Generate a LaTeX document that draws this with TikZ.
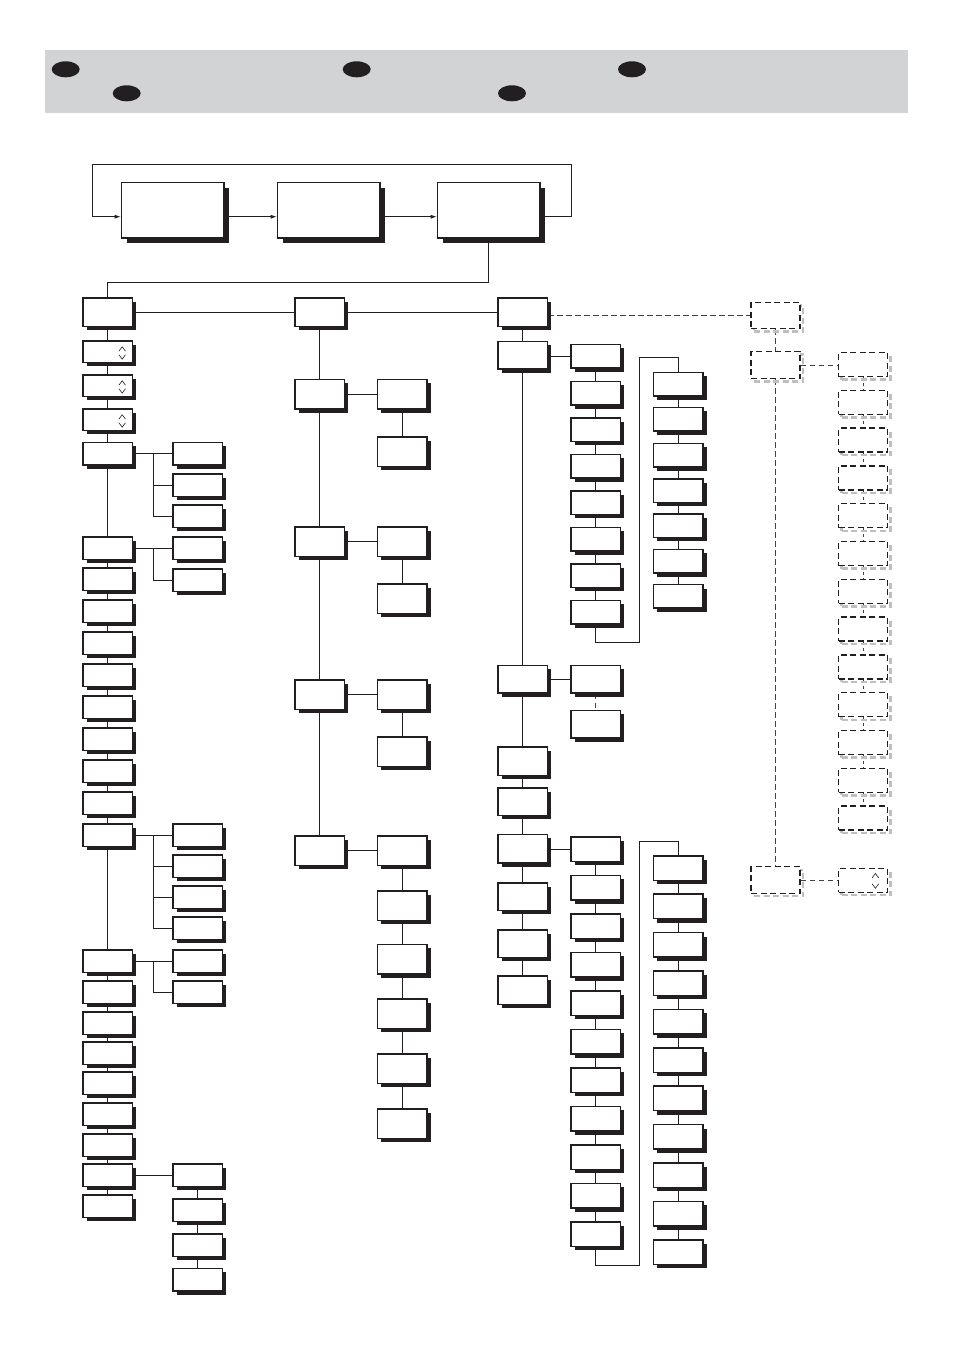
\documentclass[tikz,border=0pt]{standalone}
\usetikzlibrary{shadows,arrows.meta}
\pgfdeclarelayer{bg}
\pgfsetlayers{bg,main}
\definecolor{barg}{RGB}{209,211,212}
\definecolor{ink}{RGB}{35,31,32}
\newcommand\updown[4]{%
  \draw[chv] ([shift={(#2-3.3,#3+2.2)}]#1.center) -- ++(3.3,-4.4) -- ++(3.3,4.4);
  \draw[chv] ([shift={(#2-3.3,#4-2.2)}]#1.center) -- ++(3.3,4.4) -- ++(3.3,-4.4);}
\begin{document}
\begin{tikzpicture}[x=1pt,y=-1pt,
  box/.style={draw=ink, line width=1.5pt, fill=white, inner sep=0pt,
    minimum width=49.5pt, minimum height=22.5pt,
    drop shadow={shadow xshift=4pt, shadow yshift=-4pt, fill=ink, opacity=1}},
  bigbox/.style={draw=ink, line width=1.7pt, fill=white, inner sep=0pt,
    minimum width=102.5pt, minimum height=55.5pt,
    drop shadow={shadow xshift=5.2pt, shadow yshift=-5.2pt, fill=ink, opacity=1}},
  dbox/.style={draw=ink, line width=1.3pt, dash pattern=on 6pt off 3.5pt, fill=white,
    inner sep=0pt, minimum width=49pt, minimum height=24pt,
    preaction={draw=black!25, line width=2.4pt, dash pattern=on 6pt off 3.5pt,
      transform canvas={shift={(3pt,-3pt)}}}},
  link/.style={draw=ink, line width=0.8pt},
  dlink/.style={draw=ink!85, line width=0.9pt, dash pattern=on 5.5pt off 3.5pt},
  arr/.style={link, -{Latex[length=6pt,width=4pt]}},
  chv/.style={draw=ink, line width=0.6pt}
]
\useasboundingbox (0,0) rectangle (954,1350);
% header bar
\fill[barg] (45,50) rectangle (908,113);
\fill[ink] (65.7,69.3) ellipse [x radius=14pt, y radius=8pt];
\fill[ink] (126.7,93.3) ellipse [x radius=14pt, y radius=8pt];
\fill[ink] (356.7,69.3) ellipse [x radius=14pt, y radius=8pt];
\fill[ink] (512,93.3) ellipse [x radius=14pt, y radius=8pt];
\fill[ink] (632,69.3) ellipse [x radius=14pt, y radius=8pt];

% top boxes
\node[bigbox] (T1) at (172.8,210.3) {};
\node[bigbox] (T2) at (328.8,210.3) {};
\node[bigbox] (T3) at (488.8,210.3) {};
\coordinate (lpA) at (571,164);
\coordinate (lpB) at (92.3,164);
\coordinate (hub) at (488.8,282.3);

% left column
\node[box, minimum height=28.5pt] (L0) at (107.5,312) {};
\node[box, minimum height=21.5pt] (La1) at (107.5,351.5) {};
\node[box, minimum height=21.5pt] (La2) at (107.5,385.5) {};
\node[box, minimum height=21.5pt] (La3) at (107.5,419.5) {};
\updown{La1}{14.7}{-2.5}{5.4}
\updown{La2}{14.7}{-2.5}{5.4}
\updown{La3}{14.7}{-2.5}{5.4}
\node[box] (L4) at (107.5,453.5) {};
\node[box] (K1) at (197.5,453.5) {};
\node[box] (K2) at (197.5,485) {};
\node[box] (K3) at (197.5,516) {};
\node[box] (L5) at (107.5,548) {};
\node[box] (K4) at (197.5,548) {};
\node[box] (K5) at (197.5,580) {};
\foreach \n/\y in {6/579,7/611,8/643,9/675,10/707,11/739,12/771,13/803,14/835,
                  15/961,16/992,17/1023,18/1053,19/1083,20/1114,21/1145,22/1175,23/1206}
  \node[box] (L\n) at (107.5,\y) {};
\foreach \n/\y in {6/835,7/866,8/897,9/928,10/961,11/992,12/1175,13/1210,14/1245,15/1279.5}
  \node[box] (K\n) at (197.5,\y) {};
\coordinate (b4) at (153.3,453.5);
\coordinate (b5) at (153.3,548);
\coordinate (b14) at (153.3,835);
\coordinate (b15) at (153.3,961);

% middle column
\node[box, minimum height=28.5pt] (M0) at (319.5,312) {};
\foreach \n/\y in {1/394,2/541.5,3/694.5,4/850.5}
  \node[box, minimum height=29.5pt] (M\n) at (319.5,\y) {};
\foreach \n/\y in {1/394,1b/451.5,2/541.5,2b/598.5,3/694.5,3b/751.5,4/850.5,4a/905.5,4b/959,4c/1013.5,4d/1068.5,4e/1123.5}
  \node[box, minimum height=29.5pt] (N\n) at (402,\y) {};

% right column
\foreach \n/\y/\h in {0/312/28.5,1/355/27.5,2/679/27.5,3/761/28.5,4/801.5/27.5,5/848.5/28.5,6/896.5/27.5,7/943.5/27.5,8/990/28.5}
  \node[box, minimum height=\h pt] (R\n) at (522.5,\y) {};
\foreach \n/\y in {1/356,2/393,3/429.5,4/466,5/502.5,6/539,7/575.5,8/612}
  \node[box, minimum height=23.5pt] (S\n) at (595.5,\y) {};
\foreach \n/\y in {1/384,2/419,3/455,4/490.5,5/525.5,6/561,7/596.3}
  \node[box, minimum height=23.5pt] (P\n) at (678,\y) {};
\node[box, minimum height=27.5pt] (U1) at (595.5,679) {};
\node[box, minimum height=27.5pt] (U2) at (595.5,724) {};
\foreach \k in {0,...,10}{
  \pgfmathsetmacro\yy{849+38.5*\k}
  \pgfmathtruncatemacro\nn{\k+1}
  \node[box, minimum height=24.5pt] (V\nn) at (595.5,\yy) {};
  \pgfmathsetmacro\yw{868+38.4*\k}
  \node[box, minimum height=24.5pt] (W\nn) at (678,\yw) {};
}
\coordinate (sA) at (639,642.3);
\coordinate (sB) at (639,357.5);
\coordinate (vA) at (639,1265);
\coordinate (vB) at (639,841.7);

% dashed part
\node[dbox, minimum height=26pt] (D0) at (775.5,315.5) {};
\node[dbox, minimum height=27pt] (D1) at (775.5,365) {};
\node[dbox, minimum height=26.5pt] (D2) at (775.5,880) {};
\foreach \k in {0,...,12}{
  \pgfmathsetmacro\yy{364.5+37.8*\k}
  \pgfmathtruncatemacro\nn{\k+1}
  \node[dbox] (E\nn) at (863,\yy) {};
}
\node[dbox, minimum height=23.5pt] (F) at (863,880.5) {};
\updown{F}{12.4}{-4.8}{5.5}

\begin{pgfonlayer}{bg}
  \draw[arr] ([yshift=-6.4pt]T1.east) -- ([yshift=-6.4pt]T2.west);
  \draw[arr] ([yshift=-6.4pt]T2.east) -- ([yshift=-6.4pt]T3.west);
  \draw[arr] ([yshift=-6.4pt]T3.east) -| (lpA) -- (lpB) |- ([yshift=-6.4pt]T1.west);
  \draw[link] (T3.south) -- (hub) -| (L0.north);
  % left
  \draw[link] (L0.south) -- (L23.north);
  \draw[link] (L0.east) -- (M0.west);
  \draw[link] (L4.east) -- (K1.west);
  \draw[link] (b4) |- (K2.west);
  \draw[link] (b4) |- (K3.west);
  \draw[link] (L5.east) -- (K4.west);
  \draw[link] (b5) |- (K5.west);
  \draw[link] (L14.east) -- (K6.west);
  \draw[link] (b14) |- (K7.west);
  \draw[link] (b14) |- (K8.west);
  \draw[link] (b14) |- (K9.west);
  \draw[link] (L15.east) -- (K10.west);
  \draw[link] (b15) |- (K11.west);
  \draw[link] (L22.east) -- (K12.west);
  \draw[link] (K12.south) -- (K15.north);
  % middle
  \draw[link] (M0.east) -- (R0.west);
  \draw[link] (M0.south) -- (M4.north);
  \foreach \n in {1,2,3,4} \draw[link] (M\n.east) -- (N\n.west);
  \draw[link] (N1.south) -- (N1b.north);
  \draw[link] (N2.south) -- (N2b.north);
  \draw[link] (N3.south) -- (N3b.north);
  \draw[link] (N4.south) -- (N4e.north);
  % right
  \draw[link] (R0.south) -- (R8.north);
  \draw[link] (R1.east |- S1.west) -- (S1.west);
  \draw[link] (S1.south) -- (S8.north);
  \draw[link] (P1.south) -- (P7.north);
  \draw[link] (S8.south) |- (sA) -- (sB) -| (P1.north);
  \draw[link] (R2.east) -- (U1.west);
  \draw[dlink] (U1.south) -- (U2.north);
  \draw[link] (R5.east |- V1.west) -- (V1.west);
  \draw[link] (V1.south) -- (V11.north);
  \draw[link] (W1.south) -- (W11.north);
  \draw[link] (V11.south) |- (vA) -- (vB) -| (W1.north);
  % dashed
  \draw[dlink] (R0.east |- D0.west) -- (D0.west);
  \draw[dlink] (D0.south) -- (D1.north);
  \draw[dlink] (D1.east) -- (D1.east -| E1.west);
  \draw[dlink] (D1.south) -- (D2.north);
  \draw[dlink] (D2.east) -- (D2.east -| F.west);
  \foreach \i [evaluate=\i as \j using int(\i+1)] in {1,...,12}
    \draw[dlink, dash pattern=on 3pt off 3pt] (E\i.south) -- (E\j.north);
\end{pgfonlayer}
\end{tikzpicture}
\end{document}
